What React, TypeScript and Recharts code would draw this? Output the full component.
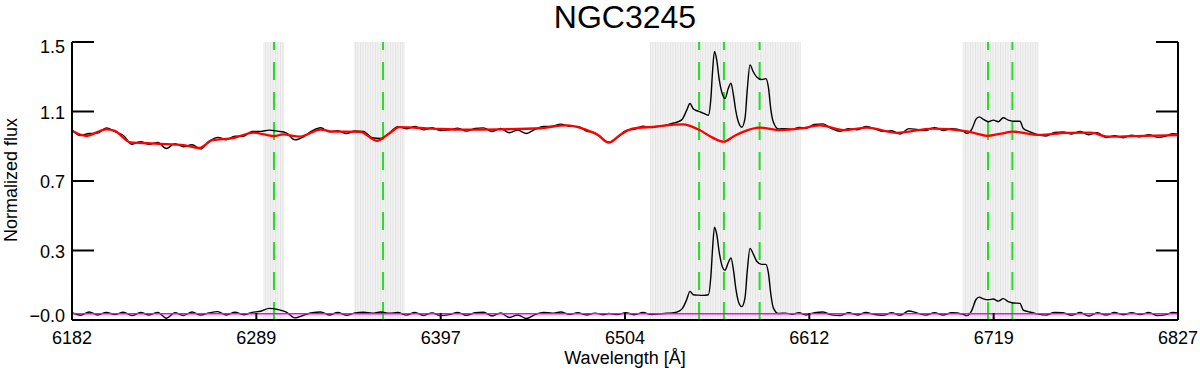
import React from 'react';
import { LineChart, Line, XAxis, YAxis, ReferenceArea, ReferenceLine } from 'recharts';

const title = 'NGC3245';
const xLabel = 'Wavelength [Å]';
const yLabel = 'Normalized flux';

const xDomain = [6182, 6827];
const xTicks = [6182, 6289.5, 6397, 6504.5, 6612, 6719.5, 6827];
const xTickLabels = ['6182', '6289', '6397', '6504', '6612', '6719', '6827'];
const yDomain = [-0.034, 1.5];
const yTicks = [-0.034, 0.3495, 0.733, 1.1165, 1.5];
const yTickLabels = ['\u22120.0', '0.3', '0.7', '1.1', '1.5'];

const maskedRegions = [
  [6293.6, 6305.7],
  [6346.5, 6376.2],
  [6519.1, 6607.0],
  [6701.4, 6745.7],
];
const lineCentres = [6299.8, 6363.4, 6547.7, 6562.2, 6583.0, 6716.2, 6730.4];

const zeroWave = [6182, 6827];
const zeroFlux = [0, 0];

const obsWave = [
  6182, 6187, 6192, 6197, 6202, 6207, 6212, 6217, 6222, 6227, 6232, 6237, 6242, 6247, 6252, 6257,
  6262, 6267, 6272, 6277, 6282, 6287, 6292, 6297, 6302, 6307, 6312, 6317, 6322, 6327, 6332, 6337,
  6342, 6347, 6352, 6357, 6362, 6367, 6372, 6377, 6382, 6387, 6392, 6397, 6402, 6407, 6412, 6417,
  6422, 6427, 6432, 6437, 6442, 6447, 6452, 6457, 6462, 6467, 6472, 6477, 6482, 6487, 6492, 6495,
  6500, 6505, 6510, 6515, 6520,
  6525, 6529, 6533, 6536, 6538, 6540.5, 6542.4, 6544.4, 6547.2, 6550, 6553.1, 6554.6, 6555.6,
  6556.7, 6558, 6559.5, 6561.5, 6562.8, 6564.7, 6566.3, 6567.7, 6569.2, 6571.2, 6572.6, 6574.5,
  6575.8, 6577.4, 6579.3, 6581.3, 6584.2, 6586.7, 6588.1, 6589.6, 6591, 6594, 6598, 6602,
  6606, 6610, 6615, 6620, 6625, 6630, 6635, 6640, 6645, 6650, 6655, 6660, 6665, 6670, 6675, 6680,
  6685, 6690, 6695,
  6701.6, 6703.8, 6706.7, 6709.2, 6711.1, 6713.5, 6716.4, 6719.3, 6722.2, 6725.1, 6728, 6730.9,
  6734.8, 6736.8, 6739.7, 6744.6,
  6750, 6755, 6760, 6765, 6770, 6775, 6780, 6785, 6790, 6795, 6800, 6805, 6810, 6815, 6820, 6824, 6827,
];

const obsFlux = [
  1.016, 0.984, 0.995, 0.997, 1.026, 1.006, 0.984, 0.936, 0.950, 0.935, 0.946, 0.912, 0.939, 0.922, 0.933, 0.910,
  0.953, 0.974, 0.961, 0.980, 0.980, 1.007, 1.007, 1.014, 1.008, 0.999, 0.960, 0.977, 1.009, 1.027, 1.004, 1.011,
  0.995, 1.009, 1.007, 0.972, 0.968, 0.998, 1.033, 1.021, 1.034, 1.015, 1.027, 1.011, 1.015, 1.025, 1.008, 1.023,
  1.026, 1.006, 1.023, 0.999, 1.014, 0.995, 1.018, 1.034, 1.035, 1.047, 1.035, 1.034, 1.009, 0.999, 0.960, 0.947,
  0.973, 1.011, 1.018, 1.035, 1.028,
  1.036, 1.043, 1.053, 1.062, 1.075, 1.124, 1.161, 1.130, 1.118, 1.108, 1.096, 1.190, 1.344,
  1.448, 1.400, 1.290, 1.207, 1.188, 1.243, 1.273, 1.210, 1.116, 1.045, 1.030, 1.080,
  1.236, 1.374, 1.336, 1.307, 1.293, 1.298, 1.252, 1.124, 1.058, 1.020, 1.022, 1.018,
  1.029, 1.024, 1.045, 1.048, 1.022, 1.007, 1.022, 1.016, 1.034, 1.021, 1.007, 1.010, 0.992, 1.022, 1.017, 1.012,
  1.028, 1.012, 1.021,
  1.008, 0.996, 1.018, 1.074, 1.087, 1.073, 1.060, 1.069, 1.060, 1.082, 1.069, 1.063,
  1.063, 1.023, 1.008, 0.990,
  0.981, 1.001, 1.004, 0.992, 1.007, 0.988, 1.000, 0.973, 0.983, 0.972, 0.986, 0.977, 0.989, 0.974, 0.981, 0.994, 0.991,
];

const residual = [
  0.006, -0.008, 0.010, -0.006, 0.008, -0.004, 0.009, -0.010, 0.007, -0.006, 0.008, -0.024, 0.006, -0.009, 0.010, -0.007,
  0.005, 0.012, -0.006, 0.009, -0.005, 0.008, 0.014, 0.030, 0.024, 0.010, -0.022, -0.008, 0.006, 0.010, -0.006, 0.007,
  -0.008, 0.005, 0.009, 0.004, 0.010, 0.003, 0.007, -0.007, 0.008, -0.009, 0.005, -0.010, -0.004, 0.008, -0.008, 0.006,
  0.009, -0.012, 0.005, -0.020, -0.006, -0.026, -0.004, 0.008, 0.004, 0.010, -0.003, 0.006, -0.006, 0.004, -0.005, 0.002,
  -0.004, 0.006, -0.005, 0.007, -0.004,
  0.000, 0.003, 0.006, 0.015, 0.030, 0.079, 0.124, 0.105, 0.103, 0.102, 0.105, 0.210, 0.364,
  0.478, 0.438, 0.337, 0.254, 0.240, 0.282, 0.309, 0.245, 0.135, 0.053, 0.040, 0.090,
  0.236, 0.361, 0.331, 0.290, 0.273, 0.273, 0.227, 0.105, 0.033, 0.002, 0.004, -0.002,
  0.006, -0.006, 0.007, 0.010, -0.006, -0.009, 0.006, -0.006, 0.007, -0.004, -0.008, 0.006, -0.008, 0.016, 0.004, -0.007,
  0.006, -0.007, 0.006,
  -0.002, -0.010, 0.018, 0.079, 0.092, 0.083, 0.078, 0.082, 0.070, 0.084, 0.067, 0.060,
  0.058, 0.020, 0.012, 0.000,
  -0.007, 0.008, 0.006, -0.008, 0.007, -0.012, 0.006, -0.007, 0.007, -0.005, 0.006, -0.004, 0.007, -0.009, -0.004, 0.008, 0.005,
];

const modelWave = [
  6182, 6190, 6202, 6207, 6216, 6228, 6237, 6247, 6256, 6264, 6276, 6288, 6294, 6300, 6305, 6315,
  6327, 6334, 6350, 6360, 6367, 6373, 6392, 6410, 6432, 6455, 6470, 6482, 6489, 6495, 6502, 6509,
  6521, 6538, 6548, 6555, 6562, 6568, 6573, 6583, 6595, 6607, 6618, 6632, 6646, 6663, 6684, 6702,
  6709, 6716, 6723, 6731, 6746, 6762, 6776, 6786, 6801, 6827,
];
const modelFlux = [
  1.010, 0.982, 1.018, 1.010, 0.946, 0.941, 0.936, 0.931, 0.915, 0.958, 0.970, 1.000, 0.990, 0.981, 0.990, 0.978,
  1.017, 1.006, 1.004, 0.955, 0.995, 1.030, 1.022, 1.016, 1.018, 1.024, 1.040, 1.015, 0.985, 0.945, 0.990, 1.022,
  1.032, 1.045, 1.014, 0.975, 0.950, 0.980, 1.003, 1.028, 1.014, 1.023, 1.040, 1.014, 1.027, 0.999, 1.022, 1.010,
  0.996, 0.982, 0.993, 1.005, 0.987, 0.999, 1.000, 0.978, 0.981, 0.986,
];

const obsData = obsWave.map((w, i) => ({ w, flux: obsFlux[i] }));
const resData = obsWave.map((w, i) => ({ w, flux: residual[i] }));
const modelData = modelWave.map((w, i) => ({ w, flux: modelFlux[i] }));
const zeroData = zeroWave.map((w, i) => ({ w, flux: zeroFlux[i] }));

const FONT = '"Liberation Sans", Arial, Helvetica, sans-serif';

const BottomTick = (props: any) => {
  const { x, y, payload } = props;
  const i = xTicks.indexOf(payload.value);
  return (
    <g>
      <line x1={x} x2={x} y1={y} y2={y - 7} stroke="#000" strokeWidth={2} />
      <text x={x} y={y + 24} textAnchor="middle" fontSize={18} fontFamily={FONT} fill="#000">
        {xTickLabels[i]}
      </text>
    </g>
  );
};

const TopTick = (props: any) => {
  const { x, y } = props;
  return <line x1={x} x2={x} y1={y} y2={y + 6} stroke="#000" strokeWidth={2} />;
};

const LeftTick = (props: any) => {
  const { x, y, payload } = props;
  const i = yTicks.indexOf(payload.value);
  const dy = i === yTicks.length - 1 ? 11.4 : i === 0 ? 2 : 7;
  return (
    <g>
      <line x1={x} x2={x + 22} y1={y} y2={y} stroke="#000" strokeWidth={2} />
      <text x={x - 7} y={y + dy} textAnchor="end" fontSize={18} fontFamily={FONT} fill="#000">
        {yTickLabels[i]}
      </text>
    </g>
  );
};

const RightTick = (props: any) => {
  const { x, y } = props;
  return <line x1={x} x2={x - 22} y1={y} y2={y} stroke="#000" strokeWidth={2} />;
};

export default function App() {
  return (
    <div style={{ position: 'absolute', left: 0, top: 0, width: 1200, height: 370, background: '#fff' }}>
      <LineChart width={1200} height={370} margin={{ top: 42, right: 0, bottom: 0, left: 0 }}>
        <defs>
          <pattern id="grayStripes" patternUnits="userSpaceOnUse" width={2.5} height={10}>
            <rect x={0} y={0} width={2.5} height={10} fill="#f3f3f3" />
            <rect x={0} y={0} width={0.9} height={10} fill="#e2e2e2" />
          </pattern>
        </defs>
        <XAxis
          dataKey="w"
          type="number"
          domain={xDomain}
          ticks={xTicks}
          allowDataOverflow
          height={50}
          tickSize={0}
          tickMargin={0}
          tickLine={false}
          tick={BottomTick}
          axisLine={{ stroke: '#000', strokeWidth: 2 }}
          interval={0}
        />
        <XAxis
          xAxisId="top"
          orientation="top"
          dataKey="w"
          type="number"
          domain={xDomain}
          ticks={xTicks}
          allowDataOverflow
          height={0}
          tickSize={0}
          tickMargin={0}
          tickLine={false}
          tick={TopTick}
          axisLine={{ stroke: '#000', strokeWidth: 2 }}
          interval={0}
        />
        <YAxis
          type="number"
          domain={yDomain}
          ticks={yTicks}
          allowDataOverflow
          width={72}
          tickSize={0}
          tickMargin={0}
          tickLine={false}
          tick={LeftTick}
          axisLine={{ stroke: '#000', strokeWidth: 2 }}
          interval={0}
        />
        <YAxis
          yAxisId="right"
          orientation="right"
          type="number"
          domain={yDomain}
          ticks={yTicks}
          allowDataOverflow
          width={22}
          tickSize={0}
          tickMargin={0}
          tickLine={false}
          tick={RightTick}
          axisLine={{ stroke: '#000', strokeWidth: 2 }}
          interval={0}
        />
        {maskedRegions.map((r, i) => (
          <ReferenceArea key={'m' + i} x1={r[0]} x2={r[1]} fill="url(#grayStripes)" fillOpacity={1} stroke="none" />
        ))}
        {lineCentres.map((c, i) => (
          <ReferenceLine key={'c' + i} x={c} stroke="#22e022" strokeWidth={2} strokeDasharray="18 12" />
        ))}
        <Line data={resData} dataKey="flux" type="monotone" stroke="#000" strokeWidth={1.4} dot={false} isAnimationActive={false} />
        <Line data={zeroData} dataKey="flux" type="linear" stroke="#ff00ff" strokeWidth={1.5} dot={false} isAnimationActive={false} />
        <Line data={obsData} dataKey="flux" type="monotone" stroke="#000" strokeWidth={1.4} dot={false} isAnimationActive={false} />
        <Line data={modelData} dataKey="flux" type="monotone" stroke="#ff0000" strokeWidth={2.3} dot={false} isAnimationActive={false} />
        <text x={625} y={28} textAnchor="middle" fontSize={32} fontFamily={FONT} fill="#000">
          {title}
        </text>
        <text x={625} y={363.5} textAnchor="middle" fontSize={18} fontFamily={FONT} fill="#000">
          {xLabel}
        </text>
        <text transform="translate(17,180) rotate(-90)" x={0} y={0} textAnchor="middle" fontSize={18} fontFamily={FONT} fill="#000">
          {yLabel}
        </text>
      </LineChart>
    </div>
  );
}
